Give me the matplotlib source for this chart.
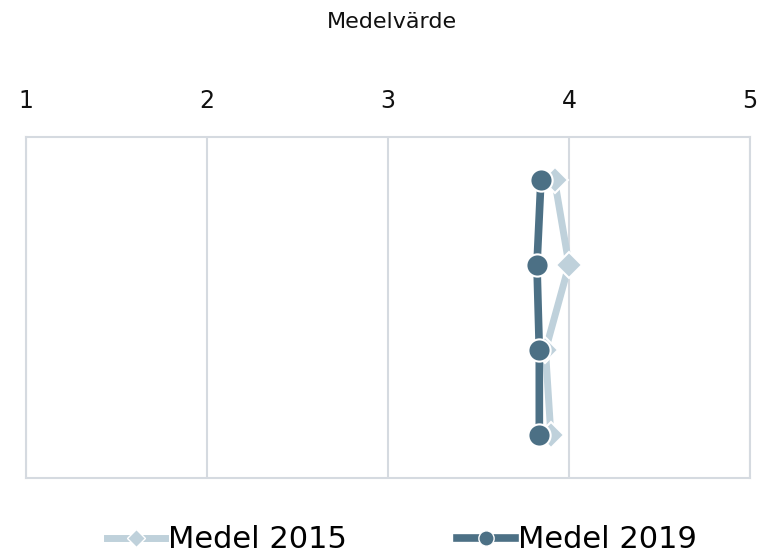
import numpy as np
import matplotlib.pyplot as plt
from matplotlib.lines import Line2D

# Data
rows = [0, 1, 2, 3]
medel_2015 = [3.92, 4.00, 3.87, 3.90]
medel_2019 = [3.845, 3.823, 3.836, 3.836]
xticks = [1, 2, 3, 4, 5]

c15 = '#bfd1db'
c19 = '#4c7085'
gridc = '#d5dae0'

plt.rcParams['font.family'] = ['DejaVu Sans']

fig = plt.figure(figsize=(7.69, 5.58), dpi=100)
ax = fig.add_axes([26/769, 1 - 478/558, (750-26)/769, (478-137)/558])

ax.plot(medel_2015, rows, color=c15, lw=5, marker='D', ms=13,
        mfc=c15, mec='white', mew=1.5, zorder=3)
ax.plot(medel_2019, rows, color=c19, lw=5.5, marker='o', ms=16,
        mfc=c19, mec='white', mew=1.5, zorder=4)

ax.set_xlim(1, 5)
ax.set_ylim(3.5, -0.5)
ax.set_xticks(xticks)
ax.set_yticks([])
ax.xaxis.tick_top()
ax.tick_params(axis='x', length=0, pad=17, labelsize=17, labelcolor='#111111')
ax.grid(axis='x', color=gridc, lw=1.5)
ax.set_axisbelow(True)
for s in ax.spines.values():
    s.set_color(gridc)
    s.set_linewidth(1.5)

fig.text(392/769, 1 - 22/558, 'Medelvärde', ha='center', va='center',
         fontsize=16, color='#111111')

handles = [
    Line2D([], [], color=c15, lw=5, marker='D', ms=9, mfc=c15, mec='white', mew=1),
    Line2D([], [], color=c19, lw=5.5, marker='o', ms=11, mfc=c19, mec='white', mew=1),
]
fig.legend(handles, ['Medel 2015', 'Medel 2019'], loc='center',
           bbox_to_anchor=(402/769, 1 - 540/558), ncol=2, frameon=False,
           fontsize=22, handlelength=1.9, handletextpad=0.1, columnspacing=3.6)

fig.savefig('out.png', dpi=100)
